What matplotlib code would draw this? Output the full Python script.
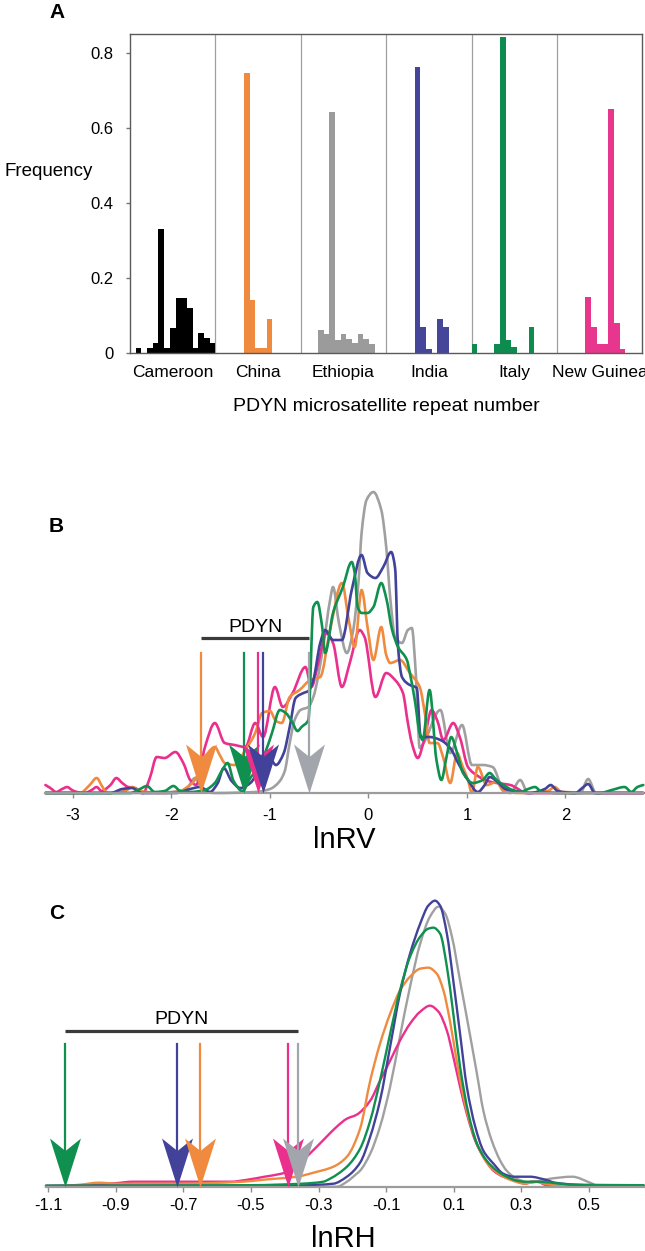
import numpy as np
import matplotlib
matplotlib.use("Agg")
import matplotlib.pyplot as plt
from matplotlib.path import Path
from matplotlib.patches import PathPatch

plt.rcParams["font.family"] = ["Liberation Sans", "DejaVu Sans"]
plt.rcParams["axes.unicode_minus"] = False

# ---------------- panel A: PDYN repeat-number frequencies (15 bins per population)
populations = ["Cameroon", "China", "Ethiopia", "India", "Italy", "New Guinea"]
bar_colors = ["#000000", "#F08A3E", "#9B9B9B", "#45459A", "#0E8C4F", "#E8358D"]
freq_cameroon = [0, 0.013, 0, 0.013, 0.027, 0.329, 0.013, 0.066, 0.145, 0.145, 0.118, 0.013, 0.053, 0.039, 0.027]
freq_china = [0, 0, 0, 0, 0, 0.745, 0.14, 0.013, 0.013, 0.09, 0, 0, 0, 0, 0]
freq_ethiopia = [0, 0, 0, 0.06, 0.049, 0.643, 0.035, 0.049, 0.036, 0.025, 0.049, 0.036, 0.024, 0, 0]
freq_india = [0, 0, 0, 0, 0, 0.763, 0.068, 0.011, 0, 0.091, 0.068, 0, 0, 0, 0]
freq_italy = [0.024, 0, 0, 0, 0.024, 0.841, 0.034, 0.015, 0, 0, 0.068, 0, 0, 0, 0]
freq_newguinea = [0, 0, 0, 0, 0, 0.148, 0.068, 0.024, 0.024, 0.649, 0.08, 0.011, 0, 0, 0]
freq_ticks = [0, 0.2, 0.4, 0.6, 0.8]

# ---------------- panel B: lnRV density curves (x = lnRV, y = relative density)
rv_ethiopia = [(-3.28, 0), (-2.22, 0), (-1.86, 0.03), (-1.76, 0.15), (-1.68, 0.03), (-1.56, 0), (-1.15, 0.01),
               (-1.00, 0.04), (-0.90, 0.12), (-0.85, 0.22), (-0.80, 0.50), (-0.75, 0.73), (-0.69, 0.83),
               (-0.61, 0.86), (-0.56, 0.96), (-0.46, 1.46), (-0.39, 1.93), (-0.36, 2.06), (-0.30, 1.70),
               (-0.22, 1.40), (-0.16, 1.60), (-0.10, 2.13), (-0.07, 2.60), (-0.02, 2.93), (0.05, 3.01),
               (0.13, 2.83), (0.18, 2.46), (0.22, 1.96), (0.27, 1.56), (0.34, 1.50), (0.40, 1.63), (0.44, 1.65),
               (0.48, 1.20), (0.52, 0.45), (0.56, 0.50), (0.73, 0.83), (0.83, 0.40), (0.95, 0.68), (1.05, 0.28),
               (1.16, 0.28), (1.26, 0.26), (1.37, 0.03), (1.44, 0), (1.54, 0.13), (1.62, 0), (2.15, 0),
               (2.23, 0.14), (2.31, 0), (2.79, 0)]
rv_india = [(-3.28, 0), (-2.62, 0), (-2.50, 0.04), (-2.40, 0.05), (-2.30, 0), (-1.96, 0), (-1.81, 0.04),
            (-1.71, 0.06), (-1.61, 0.01), (-1.53, 0.10), (-1.47, 0.25), (-1.39, 0.12), (-1.30, 0.05),
            (-1.20, 0.10), (-1.10, 0.25), (-1.02, 0.38), (-0.94, 0.28), (-0.86, 0.40), (-0.80, 0.66),
            (-0.74, 0.95), (-0.66, 1.00), (-0.61, 1.02), (-0.56, 1.13), (-0.49, 1.50), (-0.44, 1.63),
            (-0.36, 1.53), (-0.27, 1.53), (-0.17, 2.03), (-0.07, 2.38), (-0.01, 2.20), (0.07, 2.15),
            (0.15, 2.26), (0.23, 2.41), (0.27, 2.25), (0.30, 1.46), (0.34, 1.16), (0.42, 1.08), (0.49, 1.05),
            (0.53, 0.56), (0.62, 0.56), (0.73, 0.53), (0.83, 0.45), (0.91, 0.30), (1.01, 0.13), (1.11, 0.01),
            (1.18, 0.08), (1.23, 0.16), (1.31, 0.11), (1.39, 0.04), (1.49, 0.02), (1.64, 0), (1.79, 0.04),
            (1.85, 0.08), (1.92, 0.02), (2.10, 0), (2.17, 0.05), (2.23, 0.09), (2.30, 0), (2.79, 0)]
rv_italy = [(-3.28, 0), (-2.42, 0), (-2.32, 0.04), (-2.25, 0.07), (-2.17, 0.01), (-2.07, 0.02), (-1.98, 0.07),
            (-1.91, 0.02), (-1.81, 0.01), (-1.66, 0.03), (-1.56, 0.10), (-1.49, 0.22), (-1.43, 0.30),
            (-1.37, 0.12), (-1.28, 0.02), (-1.20, 0.15), (-1.12, 0.25), (-1.05, 0.40), (-0.98, 0.60),
            (-0.90, 0.83), (-0.84, 0.80), (-0.78, 0.72), (-0.72, 0.62), (-0.68, 0.66), (-0.61, 0.73),
            (-0.56, 1.86), (-0.52, 1.91), (-0.47, 1.66), (-0.44, 1.40), (-0.36, 1.80), (-0.26, 2.06),
            (-0.17, 2.31), (-0.14, 2.20), (-0.11, 1.86), (-0.07, 1.80), (-0.01, 1.80), (0.05, 1.86),
            (0.13, 2.10), (0.18, 1.95), (0.24, 1.63), (0.30, 1.46), (0.39, 1.33), (0.42, 1.20), (0.47, 0.93),
            (0.52, 0.60), (0.55, 0.53), (0.62, 1.03), (0.69, 0.33), (0.74, 0.13), (0.79, 0.35), (0.84, 0.56),
            (0.90, 0.40), (0.96, 0.20), (1.06, 0.10), (1.16, 0.13), (1.23, 0.20), (1.29, 0.14), (1.37, 0.08),
            (1.46, 0.03), (1.54, 0.01), (1.62, 0.04), (1.69, 0.06), (1.76, 0.01), (1.94, 0), (2.35, 0),
            (2.47, 0.03), (2.60, 0.06), (2.67, 0.01), (2.73, 0.06), (2.79, 0.08)]
rv_china = [(-3.28, 0), (-2.93, 0), (-2.83, 0.08), (-2.76, 0.15), (-2.70, 0.06), (-2.65, 0), (-2.47, 0.02),
            (-2.40, 0.06), (-2.32, 0.02), (-2.07, 0), (-1.91, 0.02), (-1.84, 0.06), (-1.78, 0.11), (-1.71, 0.22),
            (-1.63, 0.40), (-1.56, 0.46), (-1.51, 0.38), (-1.46, 0.30), (-1.36, 0.28), (-1.25, 0.43),
            (-1.15, 0.60), (-1.08, 0.80), (-1.00, 0.82), (-0.94, 0.72), (-0.88, 0.70), (-0.80, 0.96),
            (-0.70, 1.03), (-0.59, 1.13), (-0.49, 1.16), (-0.39, 1.63), (-0.27, 2.10), (-0.20, 1.73),
            (-0.14, 1.46), (-0.07, 2.03), (-0.01, 1.66), (0.05, 1.33), (0.13, 1.66), (0.18, 1.38), (0.22, 1.30),
            (0.32, 1.33), (0.42, 1.20), (0.52, 1.06), (0.58, 0.75), (0.62, 0.50), (0.70, 0.50), (0.76, 0.35),
            (0.83, 0.10), (0.90, 0.40), (0.95, 0.28), (1.01, 0.13), (1.05, 0), (1.11, 0.26), (1.20, 0.08),
            (1.30, 0.11), (1.37, 0.02), (1.54, 0), (1.82, 0.02), (1.89, 0.06), (1.96, 0.01), (2.79, 0)]
rv_newguinea = [(-3.28, 0.08), (-3.23, 0.05), (-3.17, 0.01), (-3.11, 0.04), (-3.06, 0.06), (-3.01, 0.03),
                (-2.96, 0.01), (-2.88, 0), (-2.81, 0.03), (-2.76, 0.06), (-2.71, 0.02), (-2.62, 0.08),
                (-2.56, 0.15), (-2.50, 0.10), (-2.44, 0.06), (-2.37, 0.05), (-2.29, 0), (-2.22, 0.15),
                (-2.15, 0.36), (-2.07, 0.35), (-1.96, 0.41), (-1.88, 0.30), (-1.81, 0.13), (-1.75, 0.08),
                (-1.66, 0.46), (-1.56, 0.70), (-1.46, 0.50), (-1.36, 0.48), (-1.25, 0.46), (-1.15, 0.70),
                (-1.07, 0.56), (-0.95, 1.06), (-0.87, 0.86), (-0.77, 1.00), (-0.64, 1.26), (-0.58, 1.06),
                (-0.51, 1.30), (-0.43, 1.60), (-0.36, 1.50), (-0.27, 1.06), (-0.19, 1.30), (-0.09, 1.63),
                (-0.04, 1.56), (0.07, 0.96), (0.18, 1.20), (0.27, 1.13), (0.35, 1.00), (0.40, 0.70), (0.44, 0.50),
                (0.50, 0.35), (0.57, 0.55), (0.64, 0.83), (0.70, 0.72), (0.76, 0.53), (0.86, 0.70), (0.93, 0.55),
                (1.01, 0.26), (1.11, 0.17), (1.21, 0.12), (1.30, 0.10), (1.44, 0.08), (1.52, 0.04), (1.59, 0),
                (2.79, 0)]
rv_pdyn = [-1.70, -1.26, -1.12, -1.07, -0.60]          # China, Italy, New Guinea, India, Ethiopia
rv_ticks = [-3, -2, -1, 0, 1, 2]

# ---------------- panel C: lnRH density curves
rh_india = [(-1.107, 0.01), (-0.40, 0.01), (-0.30, 0.02), (-0.256, 0.03), (-0.216, 0.10), (-0.177, 0.24),
            (-0.147, 0.50), (-0.118, 0.86), (-0.088, 1.40), (-0.059, 1.93), (-0.029, 2.33), (0.001, 2.63),
            (0.025, 2.81), (0.045, 2.86), (0.060, 2.81), (0.080, 2.53), (0.099, 2.06), (0.119, 1.53),
            (0.139, 1.00), (0.164, 0.60), (0.188, 0.36), (0.218, 0.23), (0.247, 0.13), (0.277, 0.10),
            (0.312, 0.10), (0.326, 0.10), (0.371, 0.07), (0.400, 0.04), (0.460, 0.02), (0.534, 0.01), (0.663, 0)]
rh_italy = [(-1.107, 0.01), (-0.50, 0.015), (-0.35, 0.03), (-0.286, 0.05), (-0.266, 0.08), (-0.216, 0.20),
            (-0.177, 0.38), (-0.147, 0.66), (-0.118, 1.06), (-0.088, 1.53), (-0.059, 1.96), (-0.029, 2.30),
            (0.001, 2.50), (0.025, 2.58), (0.040, 2.59), (0.060, 2.53), (0.080, 2.20), (0.099, 1.73),
            (0.119, 1.20), (0.144, 0.73), (0.169, 0.43), (0.198, 0.26), (0.228, 0.16), (0.257, 0.10),
            (0.287, 0.06), (0.312, 0.05), (0.341, 0.05), (0.46, 0.02), (0.663, 0.015)]
rh_china = [(-1.107, 0.005), (-1.05, 0.01), (-1.006, 0.02), (-0.951, 0.04), (-0.897, 0.03), (-0.710, 0.03),
            (-0.523, 0.05), (-0.463, 0.07), (-0.364, 0.10), (-0.315, 0.14), (-0.256, 0.20), (-0.216, 0.30),
            (-0.177, 0.58), (-0.147, 1.06), (-0.118, 1.43), (-0.088, 1.73), (-0.059, 1.96), (-0.029, 2.10),
            (0.001, 2.18), (0.025, 2.19), (0.050, 2.13), (0.070, 1.96), (0.089, 1.66), (0.109, 1.26),
            (0.129, 0.90), (0.149, 0.63), (0.178, 0.36), (0.208, 0.20), (0.238, 0.12), (0.267, 0.07),
            (0.312, 0.03), (0.34, 0.05), (0.37, 0.03), (0.42, 0.01), (0.663, 0.005)]
rh_newguinea = [(-1.107, 0.005), (-1.00, 0.01), (-0.94, 0.025), (-0.90, 0.035), (-0.85, 0.05), (-0.76, 0.05),
                (-0.56, 0.05), (-0.51, 0.07), (-0.46, 0.10), (-0.41, 0.13), (-0.37, 0.18), (-0.335, 0.30),
                (-0.305, 0.40), (-0.276, 0.50), (-0.246, 0.60), (-0.216, 0.68), (-0.187, 0.72), (-0.147, 0.86),
                (-0.118, 1.06), (-0.088, 1.26), (-0.059, 1.46), (-0.029, 1.63), (0.001, 1.75), (0.030, 1.81),
                (0.055, 1.75), (0.080, 1.56), (0.099, 1.30), (0.119, 1.00), (0.139, 0.73), (0.164, 0.46),
                (0.188, 0.30), (0.218, 0.16), (0.247, 0.10), (0.277, 0.07), (0.312, 0.03), (0.33, 0.05),
                (0.35, 0.05), (0.37, 0.02), (0.42, 0.005), (0.663, 0)]
rh_ethiopia = [(-1.107, 0), (-0.246, 0), (-0.216, 0.05), (-0.187, 0.13), (-0.177, 0.16), (-0.147, 0.33),
               (-0.118, 0.60), (-0.088, 1.00), (-0.059, 1.50), (-0.029, 2.00), (0.001, 2.43), (0.030, 2.70),
               (0.055, 2.80), (0.075, 2.73), (0.095, 2.50), (0.119, 2.06), (0.144, 1.60), (0.169, 1.13),
               (0.188, 0.76), (0.213, 0.46), (0.238, 0.26), (0.257, 0.16), (0.287, 0.08), (0.326, 0.04),
               (0.386, 0.08), (0.451, 0.10), (0.504, 0.04), (0.534, 0), (0.663, 0)]
rh_pdyn = [-1.05, -0.72, -0.65, -0.39, -0.36]          # Italy, India, China, New Guinea, Ethiopia
rh_ticks = [-1.1, -0.9, -0.7, -0.5, -0.3, -0.1, 0.1, 0.3, 0.5]

C_ORANGE, C_GREEN, C_PINK, C_BLUE, C_GREY = "#F08A3E", "#10904F", "#EA2F8C", "#42429A", "#A0A0A0"
C_GREY_ARROW = "#A2A6AC"

# notched arrow head, tip at the origin (marker units)
ARROW = Path([(0, 0), (-15.5, 49), (0, 36.5), (15.5, 49), (0, 0)],
             [Path.MOVETO, Path.LINETO, Path.LINETO, Path.LINETO, Path.CLOSEPOLY])


def smooth_path(pts):
    """Bezier path through the read points (monotone cubic tangents, no overshoot)."""
    x = np.array([p[0] for p in pts], float)
    y = np.array([p[1] for p in pts], float)
    h = np.diff(x)
    d = np.diff(y) / h
    m = np.zeros_like(y)
    m[0], m[-1] = d[0], d[-1]
    for k in range(1, len(x) - 1):
        if d[k - 1] * d[k] > 0:
            w1, w2 = 2 * h[k] + h[k - 1], h[k] + 2 * h[k - 1]
            m[k] = (w1 + w2) / (w1 / d[k - 1] + w2 / d[k])
    verts, codes = [(x[0], y[0])], [Path.MOVETO]
    for k in range(len(x) - 1):
        verts += [(x[k] + h[k] / 3, max(0, y[k] + m[k] * h[k] / 3)),
                  (x[k + 1] - h[k] / 3, max(0, y[k + 1] - m[k + 1] * h[k] / 3)),
                  (x[k + 1], y[k + 1])]
        codes += [Path.CURVE4] * 3
    return Path(verts, codes)


def density_axis(ax, xlim, ymax, ticks, pad):
    ax.set_xlim(*xlim)
    ax.set_ylim(0, ymax)
    for s in ("top", "right", "left"):
        ax.spines[s].set_visible(False)
    ax.spines["bottom"].set_color("#9c9c9c")
    ax.spines["bottom"].set_linewidth(1.6)
    ax.set_yticks([])
    ax.set_xticks(ticks)
    ax.set_xticklabels([f"{t:g}" for t in ticks])
    ax.tick_params(axis="x", length=3.6, width=1, color="#8c8c8c", pad=pad, labelsize=12)
    ax.patch.set_alpha(0)


def draw_curves(ax, curves, lw):
    for pts, c in curves:
        ax.add_patch(PathPatch(smooth_path(pts), fill=False, edgecolor=c, lw=lw,
                               joinstyle="round", capstyle="round", clip_on=False, zorder=2))


def draw_pdyn(ax, xs, colors, top, bar_y, text_y):
    for i, (x, c) in enumerate(zip(xs, colors)):
        ax.plot([x, x], [top, 0.3], color=c, lw=1.6, zorder=5 + i)
        ax.plot([x], [0], marker=ARROW, ms=70.5, color=c, mew=0, clip_on=False, zorder=5 + i)
    x0, x1 = min(xs), max(xs)
    ax.plot([x0, x1], [bar_y, bar_y], color="#3a3a3a", lw=2.3, solid_capstyle="butt", zorder=4)
    ax.text((x0 + x1) / 2, text_y, "PDYN", ha="center", va="center", fontsize=14)


fig = plt.figure(figsize=(6.45, 12.51), dpi=100)

# ---- A
axA = fig.add_axes([0.2016, 0.7181, 0.7943, 0.2547])
all_freqs = [freq_cameroon, freq_china, freq_ethiopia, freq_india, freq_italy, freq_newguinea]
for p, (freqs, c) in enumerate(zip(all_freqs, bar_colors)):
    axA.bar([15 * p + i for i in range(15)], freqs, width=1.0, align="edge", color=c, linewidth=0)
    axA.text(15 * p + 7.5, -0.0753, populations[p], transform=axA.get_xaxis_transform(),
             ha="center", va="baseline", fontsize=12.5)
for p in range(1, 6):
    axA.axvline(15 * p, color="#a0a0a0", lw=0.9, zorder=0)
axA.set_xlim(0, 90)
axA.set_ylim(0, 0.85)
axA.set_xticks([])
axA.set_yticks(freq_ticks)
axA.set_yticklabels([f"{t:g}" for t in freq_ticks])
axA.tick_params(axis="y", length=3, width=1, color="#777777", pad=9, labelsize=12)
for s in axA.spines.values():
    s.set_color("#5a5a5a")
    s.set_linewidth(1.0)
axA.text(0.5, -0.184, "PDYN microsatellite repeat number", transform=axA.transAxes,
         ha="center", va="baseline", fontsize=14)
fig.text(0.1447, 0.8593, "Frequency", ha="right", va="baseline", fontsize=13.5)
fig.text(0.076, 0.9854, "A", ha="left", va="baseline", fontsize=15, fontweight="bold")

# ---- B
axB = fig.add_axes([0.0698, 0.3661, 0.9271, 0.2582])
density_axis(axB, (-3.284, 2.787), 3.23, rv_ticks, 7)
draw_curves(axB, [(rv_ethiopia, C_GREY), (rv_newguinea, C_PINK), (rv_china, C_ORANGE),
                  (rv_india, C_BLUE), (rv_italy, C_GREEN)], 1.9)
draw_pdyn(axB, rv_pdyn, [C_ORANGE, C_GREEN, C_PINK, C_BLUE, C_GREY_ARROW], 1.40, 1.55, 1.66)
fig.text(0.533, 0.3221, "lnRV", ha="center", va="baseline", fontsize=21)
fig.text(0.076, 0.575, "B", ha="left", va="baseline", fontsize=15, fontweight="bold")

# ---- C
axC = fig.add_axes([0.0713, 0.0514, 0.9268, 0.2452])
density_axis(axC, (-1.107, 0.663), 3.067, rh_ticks, 4.5)
draw_curves(axC, [(rh_ethiopia, C_GREY), (rh_newguinea, C_PINK), (rh_china, C_ORANGE),
                  (rh_india, C_BLUE), (rh_italy, C_GREEN)], 1.7)
draw_pdyn(axC, rh_pdyn, [C_GREEN, C_BLUE, C_ORANGE, C_PINK, C_GREY_ARROW], 1.43, 1.56, 1.67)
fig.text(0.533, 0.0035, "lnRH", ha="center", va="baseline", fontsize=21)
fig.text(0.076, 0.2651, "C", ha="left", va="baseline", fontsize=15, fontweight="bold")

fig.savefig("out.png", dpi=100)
